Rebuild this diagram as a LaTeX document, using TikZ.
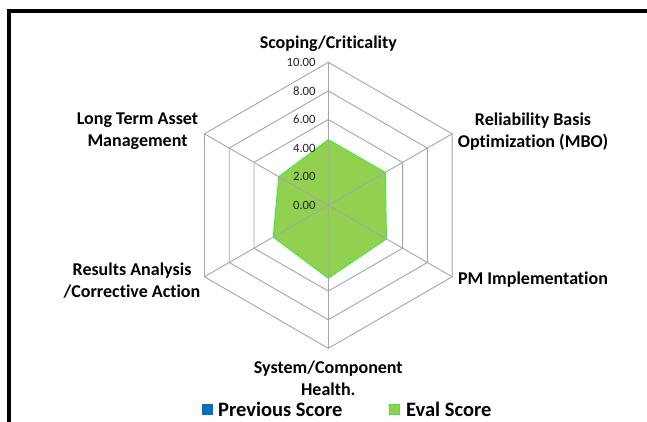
\documentclass[tikz,border=0pt]{standalone}
\usepackage{fontspec}
\setmainfont{Carlito}[Ligatures={NoCommon,NoRequired,NoContextual}]
\definecolor{gridgray}{HTML}{A6A6A6}
\definecolor{evalfill}{HTML}{92D050}
\definecolor{evalline}{HTML}{3CEB3C}
\definecolor{prevblue}{HTML}{0070C0}
\definecolor{ticktext}{HTML}{262626}
\begin{document}
\begin{tikzpicture}[x=1pt,y=-1pt,
  axislabel/.style={font=\bfseries\fontsize{18}{22}\selectfont, align=center, text=black, inner sep=0pt},
  ticklabel/.style={font=\fontsize{12.7}{15}\selectfont, text=ticktext, anchor=east, inner sep=0pt},
  legendtext/.style={font=\bfseries\fontsize{20.5}{24}\selectfont, anchor=west, inner sep=0pt},
  gridline/.style={draw=gridgray, line width=0.9pt},
  evalarea/.style={fill=evalfill, draw=evalline, line width=0.9pt, line join=miter}]
\useasboundingbox (0,0) rectangle (647,421);
\clip (0,0) rectangle (647,421);
\fill[white] (0,0) rectangle (647,421);
\coordinate (frameA) at (9.3,440);
\coordinate (frameB) at (670,11.3);
\draw[line width=4pt] (frameA) |- (frameB);
\begin{scope}[shift={(328.3,205.3)}, yscale=-1]
  \coordinate (c) at (0,0);
  \foreach \k in {2,4,6,8,10}{
    \draw[gridline] (90:14.3*\k) -- (30:14.3*\k) -- (-30:14.3*\k) -- (-90:14.3*\k) -- (-150:14.3*\k) -- (150:14.3*\k) -- cycle;
  }
  \draw[evalarea] (90:14.3*4.6) -- (30:14.3*4.6) -- (-30:14.3*4.7) -- (-90:14.3*5.1) -- (-150:14.3*4.45) -- (150:14.3*4.0) -- cycle;
  \foreach \a in {90,30,-30,-90,-150,150}{
    \coordinate (s\a) at (\a:143);
    \draw[gridline] (c) -- (s\a);
  }
  \foreach \k/\t in {0/0.00,2/2.00,4/4.00,6/6.00,8/8.00,10/10.00}{
    \node[ticklabel] (t\k) at (-12.5,14.3*\k) {\t};
  }
\end{scope}
\node[axislabel] (scoping) at (328.3,43.5) {Scoping/Criticality};
\node[axislabel] (rel) at (533,131.5) {Reliability Basis\\Optimization (MBO)};
\node[axislabel] (pm) at (533,280) {PM Implementation};
\node[axislabel] (sys) at (328.3,378) {System/Component\\Health.};
\node[axislabel] (res) at (132,281) {Results Analysis\\/Corrective Action};
\node[axislabel] (lta) at (137.5,131.5) {Long Term Asset\\Management};
\fill[prevblue] (201.7,404) rectangle (212.7,415);
\node[legendtext] (prev) at (218,409.5) {Previous Score};
\draw[fill=evalfill, draw=evalline, line width=0.8pt] (389.4,404.4) rectangle (399.6,414.6);
\node[legendtext] (eval) at (406,409.5) {Eval Score};
\end{tikzpicture}
\end{document}
